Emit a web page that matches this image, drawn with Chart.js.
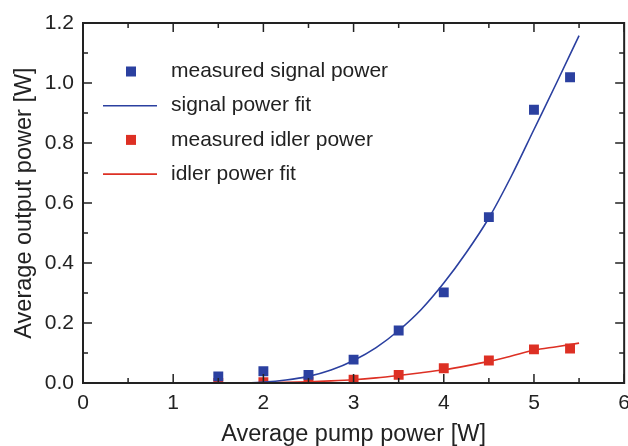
<!DOCTYPE html>
<html>
<head>
<meta charset="utf-8">
<script src="https://cdn.jsdelivr.net/npm/chart.js@4.4.1/dist/chart.umd.min.js"></script>
<style>
  html, body { margin: 0; padding: 0; background: #fff; overflow: hidden; }
  #wrap { position: relative; width: 638px; height: 446px; }
</style>
</head>
<body>
<div id="wrap"><canvas id="pumpChart"></canvas></div>
<script>
// measured points
const pumpX = [1.5, 2, 2.5, 3, 3.5, 4, 4.5, 5, 5.4];
const signalMeasured = [0.022, 0.039, 0.027, 0.078, 0.175, 0.302, 0.553, 0.911, 1.019];
const idlerMeasured = [0.0, 0.003, 0.005, 0.011, 0.027, 0.049, 0.075, 0.112, 0.115];

// fit curves
const fitX = [1.5, 1.75, 2, 2.25, 2.5, 2.75, 3, 3.25, 3.5, 3.75, 4, 4.25, 4.5, 4.75, 5, 5.25, 5.5];
const signalFit = [0, 0, 0.003, 0.01, 0.022, 0.043, 0.075, 0.118, 0.175, 0.245, 0.333, 0.435, 0.55, 0.69, 0.845, 1.0, 1.158];
const idlerFit = [0, 0, 0.001, 0.002, 0.004, 0.007, 0.011, 0.017, 0.025, 0.034, 0.044, 0.057, 0.072, 0.09, 0.109, 0.121, 0.133];

const xTicks = [0, 1, 2, 3, 4, 5, 6];
const yTicks = [0, 0.2, 0.4, 0.6, 0.8, 1.0, 1.2];

const blue = '#2b40a0';
const red = '#dd3024';
const font = '"Liberation Sans", Arial, sans-serif';
const fontSize = 21;
const titleSize = 23.5;

const pairs = (xs, ys) => xs.map((x, i) => ({x: x, y: ys[i]}));

// frame + inward ticks on all four sides
const frame = {
  id: 'frame',
  afterDatasetsDraw(chart) {
    const {ctx, chartArea: a, scales: {x, y}} = chart;
    ctx.save();
    ctx.strokeStyle = '#222';
    ctx.lineWidth = 1.5;
    ctx.beginPath();
    for (let v = 0; v <= 6.001; v += 0.5) {
      const px = x.getPixelForValue(v);
      const len = Math.abs(v - Math.round(v)) < 0.01 ? 9 : 5;
      ctx.moveTo(px, a.bottom); ctx.lineTo(px, a.bottom - len);
      ctx.moveTo(px, a.top); ctx.lineTo(px, a.top + len);
    }
    for (let i = 0; i <= 12; i++) {
      const py = y.getPixelForValue(i / 10);
      const len = i % 2 === 0 ? 9 : 5;
      ctx.moveTo(a.left, py); ctx.lineTo(a.left + len, py);
      ctx.moveTo(a.right, py); ctx.lineTo(a.right - len, py);
    }
    ctx.stroke();
    ctx.lineWidth = 2;
    ctx.strokeRect(a.left, a.top, a.right - a.left, a.bottom - a.top);
    ctx.restore();
  }
};

// legend inside the plot, upper left
const innerLegend = {
  id: 'innerLegend',
  afterDraw(chart) {
    const {ctx, chartArea: a} = chart;
    ctx.save();
    ctx.font = fontSize + 'px ' + font;
    ctx.textBaseline = 'middle';
    chart.data.datasets.forEach((ds, i) => {
      const cy = a.top + 48.5 + i * 34.2;
      const cx = a.left + 48;
      if (ds.showLine) {
        ctx.strokeStyle = ds.borderColor;
        ctx.lineWidth = 1.6;
        ctx.beginPath();
        ctx.moveTo(cx - 28, cy); ctx.lineTo(cx + 26, cy);
        ctx.stroke();
      } else {
        ctx.fillStyle = ds.backgroundColor;
        ctx.fillRect(cx - 5, cy - 5, 10, 10);
      }
      ctx.fillStyle = '#222';
      ctx.fillText(ds.label, a.left + 88, cy);
    });
    ctx.restore();
  }
};

new Chart(document.getElementById('pumpChart'), {
  type: 'scatter',
  data: {
    datasets: [
      {label: 'measured signal power', data: pairs(pumpX, signalMeasured), pointStyle: 'rect',
       pointRadius: 7, backgroundColor: blue, borderWidth: 0},
      {label: 'signal power fit', data: pairs(fitX, signalFit), showLine: true, pointRadius: 0,
       borderColor: blue, borderWidth: 1.6, cubicInterpolationMode: 'monotone'},
      {label: 'measured idler power', data: pairs(pumpX, idlerMeasured), pointStyle: 'rect',
       pointRadius: 7, backgroundColor: red, borderWidth: 0},
      {label: 'idler power fit', data: pairs(fitX, idlerFit), showLine: true, pointRadius: 0,
       borderColor: red, borderWidth: 1.6, cubicInterpolationMode: 'monotone'}
    ]
  },
  options: {
    responsive: true,
    maintainAspectRatio: false,
    animation: false,
    layout: {autoPadding: false, padding: {top: 23, right: 0, left: 0, bottom: 0}},
    plugins: {legend: {display: false}, tooltip: {enabled: false}},
    scales: {
      x: {
        min: 0, max: 6,
        grid: {display: false, drawTicks: false},
        border: {display: false},
        afterBuildTicks: s => { s.ticks = xTicks.map(v => ({value: v})); },
        afterFit: s => { s.height = 63; },
        ticks: {color: '#222', font: {family: font, size: fontSize}, padding: 8, maxRotation: 0,
                callback: v => String(v)},
        title: {display: true, text: 'Average pump power [W]', color: '#222',
                font: {family: font, size: titleSize, lineHeight: 1.0}, padding: {top: 0, bottom: 0}}
      },
      y: {
        min: 0, max: 1.2,
        grid: {display: false, drawTicks: false},
        border: {display: false},
        afterBuildTicks: s => { s.ticks = yTicks.map(v => ({value: v})); },
        afterFit: s => { s.width = 83; },
        ticks: {color: '#222', font: {family: font, size: fontSize}, padding: 9,
                callback: v => v.toFixed(1)},
        title: {display: true, text: 'Average output power [W]', color: '#222',
                font: {family: font, size: titleSize, lineHeight: 1.0}, padding: {top: 13, bottom: 0}}
      }
    }
  },
  plugins: [frame, innerLegend]
});
</script>
</body>
</html>
